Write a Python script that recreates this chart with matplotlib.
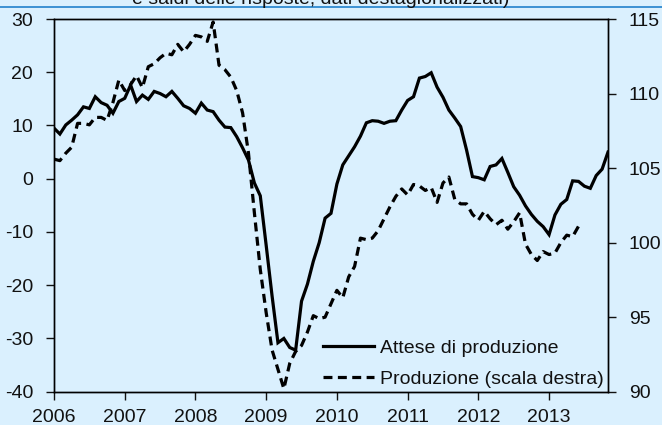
import matplotlib
matplotlib.use("Agg")
import matplotlib.pyplot as plt
from matplotlib.lines import Line2D
import numpy as np

plt.rcParams['font.family'] = ['Liberation Sans', 'DejaVu Sans']
plt.rcParams['axes.unicode_minus'] = False

# Monthly data starting January 2006
attese = [9.5, 8.4, 10.1, 11.0, 12.0, 13.5, 13.2, 15.4, 14.3, 13.8, 12.3, 14.5,
          15.1, 17.6, 14.5, 15.7, 14.9, 16.4, 16.0, 15.4, 16.4, 15.1, 13.7, 13.2,
          12.3, 14.2, 12.9, 12.6, 11.0, 9.7, 9.6, 7.9, 5.8, 3.5, -0.8, -3.2,
          -12.5, -22.0, -30.8, -30.0, -31.7, -32.2, -23.0, -19.8, -15.5, -12.0, -7.4, -6.5,
          -1.0, 2.6, 4.3, 6.0, 8.0, 10.5, 10.9, 10.8, 10.4, 10.8, 10.9, 12.9,
          14.7, 15.4, 18.9, 19.2, 19.9, 17.2, 15.3, 12.9, 11.4, 9.8, 5.4, 0.4,
          0.2, -0.2, 2.3, 2.6, 3.8, 1.2, -1.5, -3.1, -5.1, -6.7, -8.0, -9.0,
          -10.5, -6.8, -4.8, -3.9, -0.4, -0.5, -1.4, -1.8, 0.6, 1.8, 5.0]

produzione = [105.6, 105.5, 106.0, 106.4, 108.0, 108.0, 107.9, 108.4, 108.4, 108.2, 109.4, 110.9,
              110.2, 110.6, 111.2, 110.4, 111.8, 112.0, 112.4, 112.7, 112.6, 113.3, 112.8, 113.3,
              113.9, 113.8, 113.5, 114.8, 111.9, 111.6, 111.1, 110.2, 108.7, 106.0, 102.0, 98.2,
              95.3, 92.8, 91.5, 90.2, 91.9, 92.7, 93.1, 94.0, 95.1, 94.9, 95.0, 95.9,
              96.8, 96.3, 97.7, 98.4, 100.3, 100.2, 100.3, 100.8, 101.6, 102.4, 103.1, 103.6,
              103.2, 103.9, 103.8, 103.5, 103.7, 102.7, 104.0, 104.4, 102.9, 102.6, 102.6, 101.9,
              101.5, 102.1, 101.6, 101.2, 101.5, 100.9, 101.4, 102.0, 99.9, 99.2, 98.8, 99.4,
              99.2, 99.3, 100.0, 100.5, 100.4, 101.1]

years = [2006, 2007, 2008, 2009, 2010, 2011, 2012, 2013]
left_ticks = [-40, -30, -20, -10, 0, 10, 20, 30]
right_ticks = [90, 95, 100, 105, 110, 115]
labels = ["Attese di produzione", "Produzione (scala destra)"]
subtitle = "e saldi delle risposte; dati destagionalizzati)"

x_att = 2006 + np.arange(len(attese)) / 12.0
x_prod = 2006 + np.arange(len(produzione)) / 12.0

bg = '#DAF0FE'
fs = 14

fig = plt.figure(figsize=(6.62, 4.25), dpi=100, facecolor=bg)
ax = fig.add_axes([54/662, 1 - 391.7/425, (608-54)/662, (391.7-19)/425])
ax.set_facecolor(bg)
ax2 = ax.twinx()

l1, = ax.plot(x_att, attese, color='black', lw=2.3, solid_joinstyle='miter')
l2, = ax2.plot(x_prod, produzione, color='black', lw=2.3, linestyle=(0, (2.8, 1.7)))

ax.set_xlim(2006, 2006 + (len(attese) - 1) / 12.0)
ax.set_ylim(-40, 30)
ax2.set_ylim(90, 115)
ax.set_xticks(years)
ax.set_xticklabels([str(y) for y in years])
ax.set_yticks(left_ticks)
ax2.set_yticks(right_ticks)

for a in (ax, ax2):
    for s in a.spines.values():
        s.set_color('black')
        s.set_linewidth(1.0)
ax.tick_params(axis='y', direction='out', length=6, width=1, pad=9, labelsize=fs, colors='#111111')
ax.tick_params(axis='x', direction='out', length=6, width=1, pad=6.3, labelsize=fs, colors='#111111')
ax2.tick_params(axis='y', direction='out', length=6, width=1, pad=9, labelsize=fs, colors='#111111')

leg = ax2.legend([l1, l2], labels, loc='lower right', bbox_to_anchor=(0.995, 0.006),
                 frameon=False, fontsize=fs, handlelength=2.6, handletextpad=0.3,
                 labelspacing=0.68, borderaxespad=0.0, borderpad=0.1)
for t in leg.get_texts():
    t.set_color('#111111')

fig.text(131.7/662, 1 - 4/425, subtitle, ha='left', va='baseline', fontsize=fs, color='#111111')
fig.add_artist(Line2D([0, 1], [1 - 6.5/425, 1 - 6.5/425], transform=fig.transFigure,
                      color='#2F8AD0', lw=1.3))

fig.savefig('out.png', dpi=100, facecolor=bg)
